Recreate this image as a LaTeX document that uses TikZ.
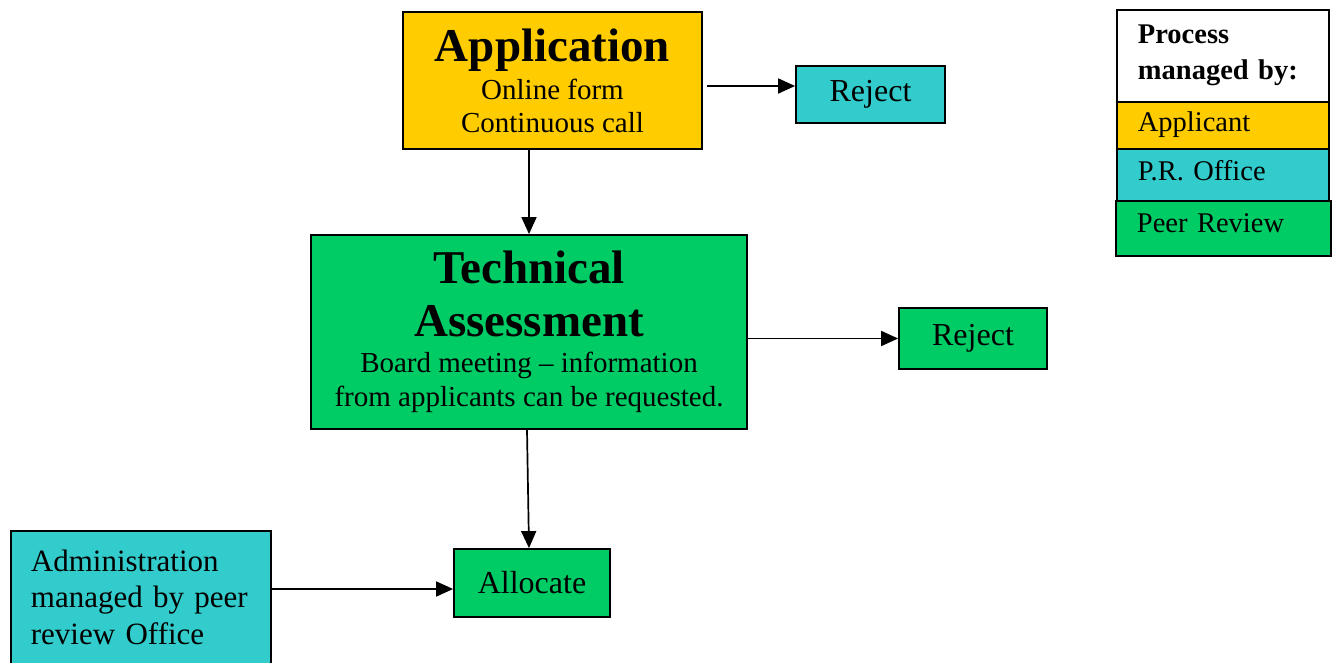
\documentclass[tikz,border=0pt]{standalone}
\usepackage{fontspec}
\setmainfont{Liberation Serif}
\usepackage{xcolor}
\usepackage{tikz}
\usetikzlibrary{
    arrows.meta,
    calc,
    positioning
}
\definecolor{applicantyellow}{HTML}{FFCC00}
\definecolor{officecyan}{HTML}{33CCCC}
\definecolor{reviewgreen}{HTML}{00CC66}
\newcommand{\titlefont}{\fontsize{47}{53}\selectfont\bfseries}
\newcommand{\bodyfont}{\fontsize{29}{34}\selectfont}
\newcommand{\labelfont}{\fontsize{32}{36}\selectfont}
\newcommand{\keyfont}{\fontsize{28.5}{36}\selectfont}
\tikzset
{
  stepbox/.style={draw=black,line width=1.8pt,rectangle,inner sep=0pt,align=center,font=\bodyfont},
  keybox/.style={draw=black,line width=1.8pt,rectangle,anchor=north west,inner xsep=21pt,inner ysep=0pt,
    text width=170pt,align=left,font=\keyfont,text height=21pt,text depth=12pt},
  flow/.style={draw=black,line width=1.7pt,-{Triangle[length=17pt,width=15pt]}}
}

\begin{document}
\frenchspacing
\begin{tikzpicture}[x=1pt,y=-1pt]
        \useasboundingbox (0,0) rectangle (1337,663);

        % Main steps
        \node[stepbox,fill=applicantyellow,minimum width=299pt,minimum height=137pt] (app) at (552.5,80.5)
            {{\titlefont Application}\\[4pt] Online form\\[-1pt] Continuous call};
        \node[stepbox,fill=reviewgreen,minimum width=436pt,minimum height=194pt] (tech) at (529,332)
            {{\titlefont Technical}\\[19pt]{\titlefont Assessment}\\[2pt] Board meeting -- information\\ from applicants can be requested.};
        \node[stepbox,fill=reviewgreen,minimum width=156pt,minimum height=68pt,font=\labelfont] (alloc) at (532,583) {Allocate};

        % Rejections
        \node[stepbox,fill=officecyan,minimum width=149pt,minimum height=57pt,font=\labelfont] (rejA) at (870.5,94.5) {Reject};
        \node[stepbox,fill=reviewgreen,minimum width=148pt,minimum height=61pt,font=\labelfont] (rejB) at (973,338.5) {Reject};

        % Administration box, runs off the bottom edge
        \node[draw=black,line width=1.8pt,fill=officecyan,anchor=north west,inner xsep=20pt,inner ysep=19pt,
            text width=220pt,align=left,font=\fontsize{31}{36.5}\selectfont,text depth=110pt] (admin) at (10,530)
            {Administration\\ managed by peer\\ review Office};

        % Key
        \node[keybox,fill=white,text height=18pt,text depth=42pt,minimum height=92pt,font=\keyfont\bfseries] (keyhead) at (1116,9)
            {Process\\ managed by:};
        \node[keybox,fill=applicantyellow,minimum height=47pt,text height=23pt,text depth=10pt] (keyapp) at (1116,101) {Applicant};
        \node[keybox,fill=officecyan,minimum height=56pt,text height=21pt,text depth=13pt] (keyoffice) at (1116,148) {P.R. Office};
        \node[keybox,fill=reviewgreen,minimum height=55pt,text width=173pt] (keyreview) at (1115,200) {Peer Review};

        % Connectors
        \draw[flow,shorten <=4pt] ([yshift=-5.5pt]app.east) -- ([yshift=-5.5pt]app.east -| rejA.west);
        \draw[flow] (app.south -| tech.north) -- (tech.north);
        \draw[flow] (tech.east |- rejB.west) -- (rejB.west);
        \draw[flow] ([xshift=-2pt]tech.south) -- ([xshift=-3pt]alloc.north);
        \draw[flow] ([yshift=-6pt]alloc.west -| admin.east) -- ([yshift=-6pt]alloc.west);
    \end{tikzpicture}
\end{document}
